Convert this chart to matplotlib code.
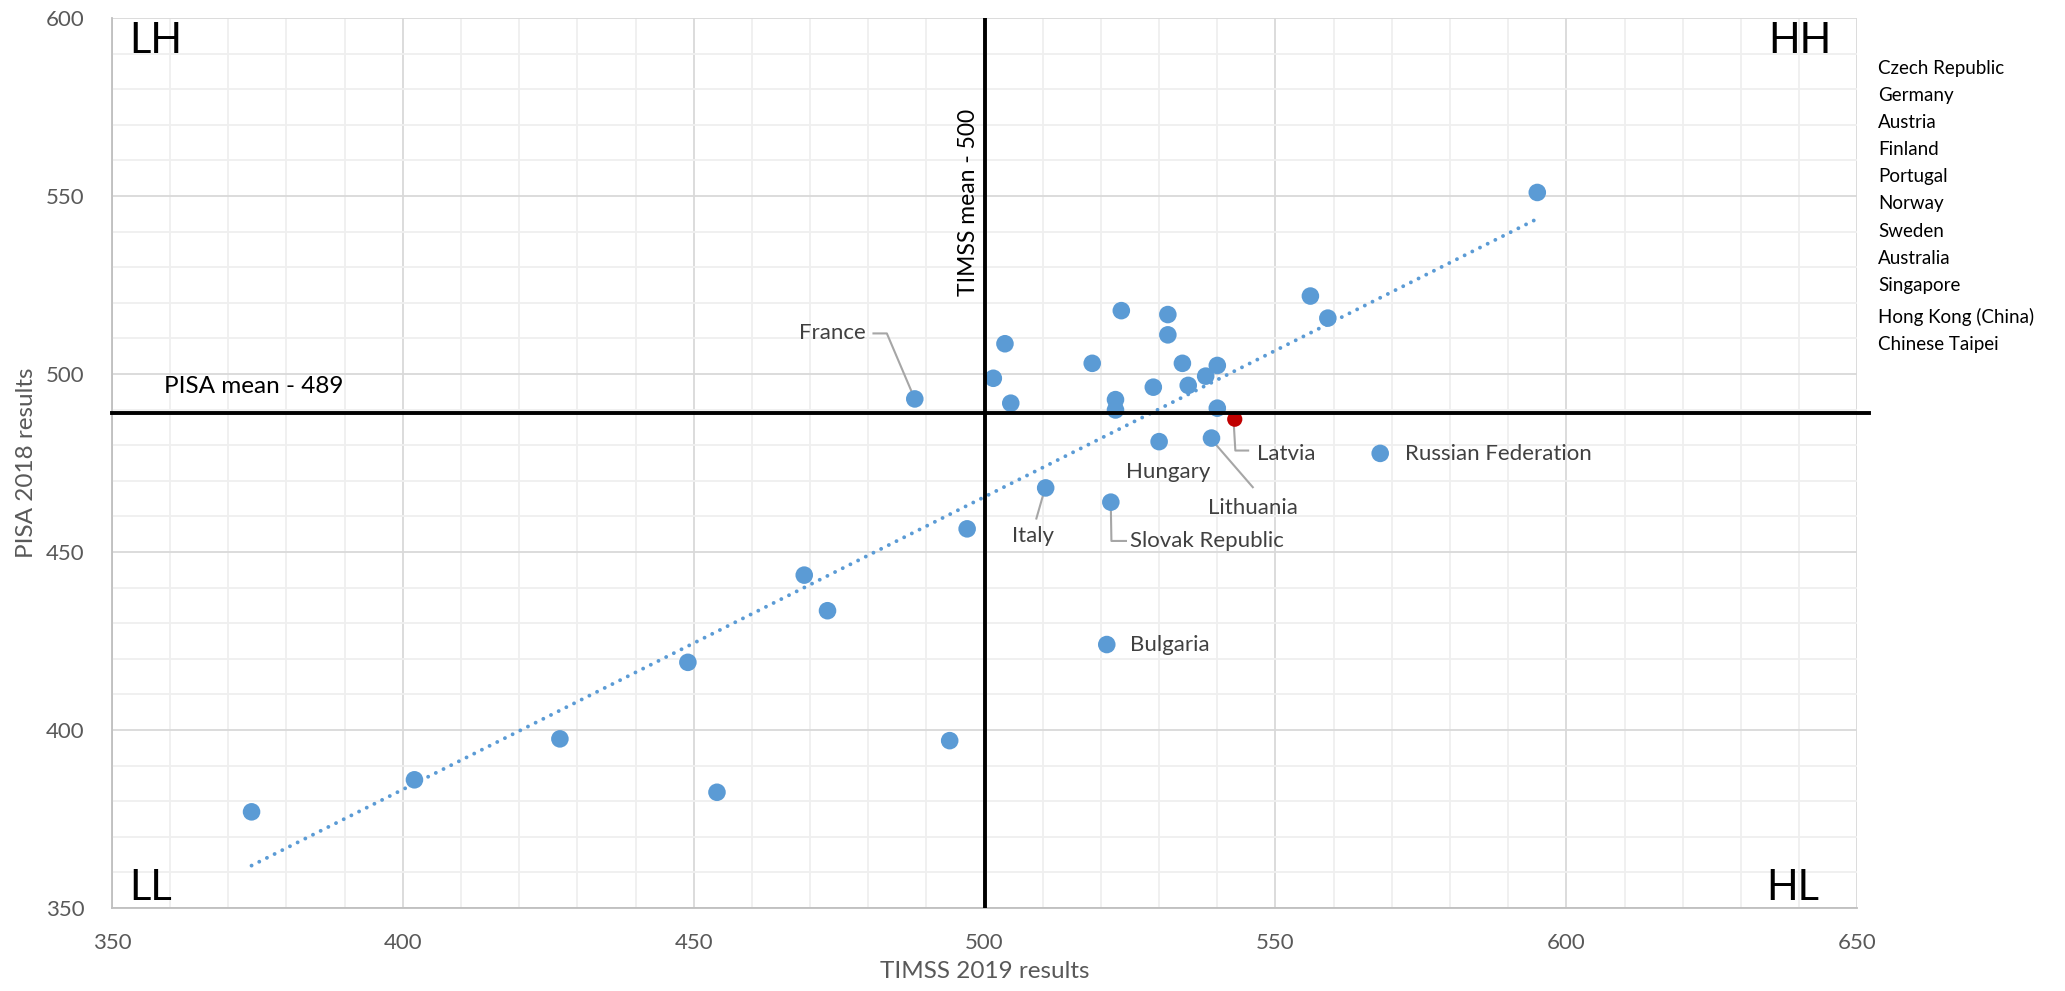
import matplotlib
matplotlib.use("Agg")
import matplotlib.pyplot as plt
from matplotlib.ticker import MultipleLocator
import numpy as np

plt.rcParams['font.family'] = ['Lato', 'DejaVu Sans']

# TIMSS 2019 (x) vs PISA 2018 (y), one entry per country
timss = [374, 402, 427, 449, 454, 469, 473, 488, 494, 497,
         501.5, 503.5, 504.5, 510.5, 518.5, 521, 522.5, 522.5, 523.5, 529,
         530, 531.5, 531.5, 534, 535, 538, 539, 540, 540, 543,
         556, 559, 568, 595, 521.7]
pisa = [377, 386, 397.5, 419, 382.5, 443.5, 433.5, 493, 397, 456.5,
        498.8, 508.5, 491.8, 468, 503, 424, 492.8, 489.9, 517.8, 496.3,
        481, 516.7, 511, 503, 496.8, 499.4, 482, 502.4, 490.4, 487.3,
        521.9, 515.7, 477.7, 551, 464]
names = [None, None, None, None, None, None, None, "France", None, None,
         None, None, None, "Italy", None, "Bulgaria", None, None, None, None,
         "Hungary", None, None, None, None, None, "Lithuania", None, None, "Latvia",
         None, None, "Russian Federation", None, "Slovak Republic"]
# Latvia is highlighted
highlight = "Latvia"

side_list = ["Czech Republic", "Germany", "Austria", "Finland", "Portugal",
             "Norway", "Sweden", "Australia", "Singapore", "Hong Kong (China)",
             "Chinese Taipei"]

timss_mean = 500
pisa_mean = 489

blue = "#5B9BD5"
grey_txt = "#595959"
lab_txt = "#404040"

fig = plt.figure(figsize=(20.65, 9.91), dpi=100)
ax = fig.add_axes([0.0542, 0.0838, 0.8452, 0.898])

ax.set_xlim(350, 650)
ax.set_ylim(350, 600)
ax.xaxis.set_major_locator(MultipleLocator(50))
ax.yaxis.set_major_locator(MultipleLocator(50))
ax.xaxis.set_minor_locator(MultipleLocator(10))
ax.yaxis.set_minor_locator(MultipleLocator(10))
ax.grid(which="major", color="#d9d9d9", lw=1.3, zorder=0)
ax.grid(which="minor", color="#efefef", lw=1.3, zorder=0)
ax.set_axisbelow(True)
ax.tick_params(which="both", length=0, labelsize=16, colors=grey_txt)
ax.tick_params(axis="x", pad=18)
ax.tick_params(axis="y", pad=20)
for s in ["top", "right"]:
    ax.spines[s].set_visible(False)
for s in ["left", "bottom"]:
    ax.spines[s].set_color("#bfbfbf")
    ax.spines[s].set_linewidth(1.3)

ax.set_xlabel("TIMSS 2019 results", fontsize=17.5, color=grey_txt, labelpad=6)
ax.set_ylabel("PISA 2018 results", fontsize=17.5, color=grey_txt, labelpad=6)

# points
cols = ["#C00000" if n == highlight else blue for n in names]
sizes = [120 if n == highlight else 160 for n in names]
ax.scatter(timss, pisa, s=sizes, c=cols, zorder=3, linewidths=0)

# linear trendline
k, b = np.polyfit(timss, pisa, 1)
tx = np.array([min(timss), max(timss)])
ax.plot(tx, k * tx + b, color=blue, lw=2.8, linestyle=(0, (0.01, 2.2)),
        dash_capstyle="round", zorder=2)

# mean lines
ax.axvline(timss_mean, color="black", lw=2.8, zorder=4)
ax.plot([350, 652], [pisa_mean, pisa_mean], color="black", lw=2.8, zorder=4, clip_on=False)
ax.text(497.3, 522, "TIMSS mean - 500", rotation=90, fontsize=16.5, ha="center", va="bottom")
ax.text(359, 496.5, "PISA mean - 489", fontsize=17.5, ha="left", va="center")

# quadrant labels
ax.text(353, 593.5, "LH", fontsize=30, ha="left", va="center")
ax.text(645.5, 593.5, "HH", fontsize=30, ha="right", va="center")
ax.text(353, 355.6, "LL", fontsize=30, ha="left", va="center")
ax.text(643.5, 355.6, "HL", fontsize=30, ha="right", va="center")

# country labels (position, alignment, leader path)
label_pos = {
    "France": (479.5, 511.4, "right", [(480.9, 511.4), (483.2, 511.4), (487.6, 494.5)]),
    "Italy": (508.3, 454.6, "center", [(508.9, 459.4), (510.2, 466.8)]),
    "Bulgaria": (525.0, 423.8, "left", None),
    "Hungary": (531.5, 472.6, "center", None),
    "Lithuania": (546.1, 462.3, "center", [(546.1, 468.2), (539.0, 481.6)]),
    "Latvia": (546.8, 477.6, "left", [(542.8, 486.9), (543.1, 478.5), (545.3, 478.5)]),
    "Russian Federation": (572.2, 477.4, "left", None),
    "Slovak Republic": (525.0, 453.1, "left", [(524.3, 453.1), (521.8, 453.1), (521.7, 462.5)]),
}
for n, (lx, ly, ha, path) in label_pos.items():
    ax.text(lx, ly, n, fontsize=16, color=lab_txt, ha=ha, va="center", zorder=5)
    if path:
        px = [p[0] for p in path]
        py = [p[1] for p in path]
        ax.plot(px, py, color="#a6a6a6", lw=1.5, zorder=2.5)

# list of countries beside the chart
y0 = 0.931
for j, n in enumerate(side_list):
    yy = y0 - j * 0.02737
    if j >= 9:
        yy -= 0.0045
    fig.text(0.9095, yy, n, fontsize=13.5, ha="left", va="center")

fig.savefig("out.png", dpi=100)
